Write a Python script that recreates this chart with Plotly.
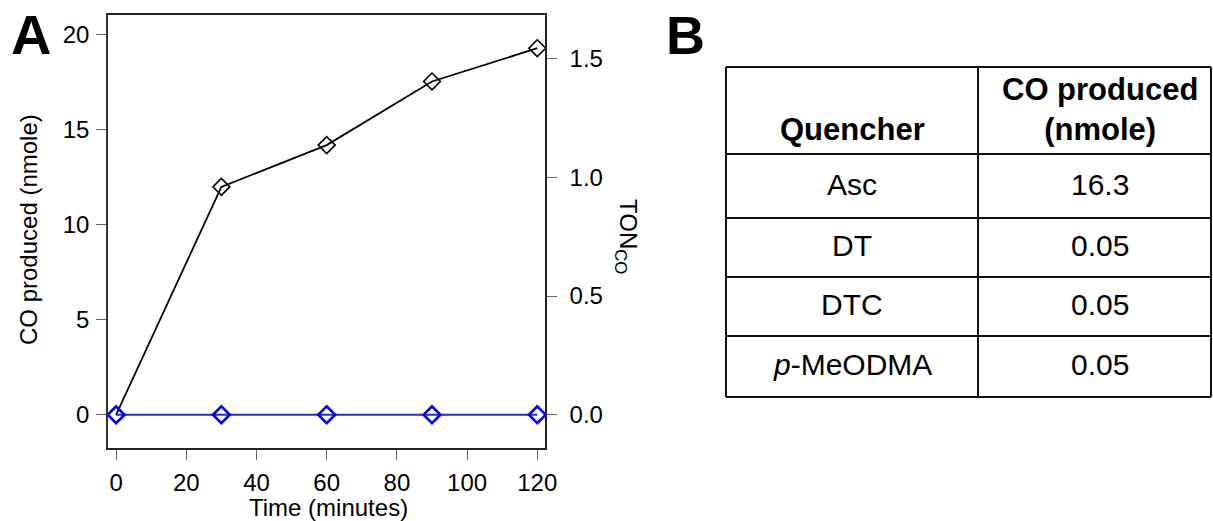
import plotly.graph_objects as go

# ---- Panel A: CO production over time ----
time_min = [0, 30, 60, 90, 120]
co_with_catalyst = [0.0, 12.0, 14.2, 17.55, 19.3]   # nmole
co_control = [0.0, 0.0, 0.0, 0.0, 0.0]              # nmole
nmol_per_ton = 12.5                                  # nmole CO per turnover

x_ticks = [0, 20, 40, 60, 80, 100, 120]
y_ticks = [0, 5, 10, 15, 20]
ton_ticks = [0.0, 0.5, 1.0, 1.5]

# ---- Panel B: quencher table ----
table_header = ["<b>Quencher</b>", "<b>CO produced<br>(nmole)</b>"]
quenchers = ["Asc", "DT", "DTC", "<i>p</i>-MeODMA"]
co_by_quencher = ["16.3", "0.05", "0.05", "0.05"]

W, H = 1213, 521
FONT = "Liberation Sans, Arial, sans-serif"


def px(x):
    return x / W


def py(y):
    return 1 - y / H


y_range = [-1.75, 21.05]
x_range = [-2.3, 122.2]

fig = go.Figure()
fig.add_trace(go.Scatter(
    x=time_min, y=co_with_catalyst, mode="lines+markers",
    line=dict(color="black", width=1.8),
    marker=dict(symbol="diamond-open", size=13, color="black", line=dict(width=1.6)),
    showlegend=False, cliponaxis=False))
fig.add_trace(go.Scatter(
    x=time_min, y=co_control, mode="lines+markers",
    line=dict(color="#2a2ac8", width=2),
    marker=dict(symbol="diamond-open", size=13, color="#0000ee", line=dict(width=2.6)),
    showlegend=False, cliponaxis=False))

axis_common = dict(showgrid=False, zeroline=False, ticks="outside", ticklen=10,
                   tickcolor="#666", tickwidth=1.2, automargin=False,
                   tickfont=dict(family=FONT, size=24, color="black"))

fig.update_layout(
    width=W, height=H, autosize=False, margin=dict(l=0, r=0, t=0, b=0, pad=0),
    paper_bgcolor="white", plot_bgcolor="white",
    font=dict(family=FONT, color="black"), showlegend=False,
    xaxis=dict(domain=[px(108), px(545)], range=x_range, tickvals=x_ticks,
               showline=True, linecolor="#222", linewidth=1.5, mirror=True,
               ticklabelstandoff=2, **axis_common),
    yaxis=dict(domain=[py(448), py(15)], range=y_range, tickvals=y_ticks,
               showline=True, linecolor="#333", linewidth=1.5,
               ticklabelstandoff=2, **axis_common),
    yaxis2=dict(overlaying="y", side="right", anchor="x",
                range=[v / nmol_per_ton for v in y_range], tickvals=ton_ticks,
                tickformat=".1f", showline=True, linecolor="#222", linewidth=1.5,
                ticklabelstandoff=8, **axis_common),
)

# keep the right-hand axis visible with an invisible trace on it
fig.add_trace(go.Scatter(x=[time_min[0]], y=[0], yaxis="y2", mode="markers",
                         marker=dict(opacity=0), hoverinfo="skip", showlegend=False))

annotations = [
    dict(text="Time (minutes)", x=px(328), y=py(507), font=dict(family=FONT, size=24)),
    dict(text="CO produced (nmole)", x=px(28), y=py(230), textangle=-90,
         font=dict(family=FONT, size=24)),
    dict(text="TON<sub>CO</sub>", x=px(627), y=py(236), textangle=90,
         font=dict(family=FONT, size=24)),
    dict(text="<b>A</b>", x=px(31), y=py(34), font=dict(family=FONT, size=56)),
    dict(text="<b>B</b>", x=px(686), y=py(35), font=dict(family=FONT, size=54)),
]

# table geometry (pixels)
t_left, t_mid, t_right = 726, 978, 1211
row_lines = [67, 154, 218, 277, 336, 397]
col_centers = [852, 1100]

shapes = []
line_style = dict(color="#111", width=2)
for yl in row_lines:
    shapes.append(dict(type="line", xref="paper", yref="paper",
                       x0=px(t_left), x1=px(t_right), y0=py(yl), y1=py(yl), line=line_style))
for xl in (t_left, t_mid, t_right):
    shapes.append(dict(type="line", xref="paper", yref="paper",
                       x0=px(xl), x1=px(xl), y0=py(row_lines[0]), y1=py(row_lines[-1]),
                       line=line_style))

# header cells, bottom-aligned
for cx, txt in zip(col_centers, table_header):
    annotations.append(dict(text=txt, x=px(cx), y=py(row_lines[1] - 5), yanchor="bottom",
                            font=dict(family=FONT, size=31)))
# body cells
for i, (q, v) in enumerate(zip(quenchers, co_by_quencher)):
    yc = (row_lines[i + 1] + row_lines[i + 2]) / 2 - 2
    annotations.append(dict(text=q, x=px(col_centers[0]), y=py(yc),
                            font=dict(family=FONT, size=30)))
    annotations.append(dict(text=v, x=px(col_centers[1]), y=py(yc),
                            font=dict(family=FONT, size=30)))

for a in annotations:
    a.setdefault("xref", "paper")
    a.setdefault("yref", "paper")
    a.setdefault("showarrow", False)
    a.setdefault("xanchor", "center")
    a.setdefault("yanchor", "middle")

fig.update_layout(shapes=shapes, annotations=annotations)
fig.write_html("out.html", config={"responsive": False})
